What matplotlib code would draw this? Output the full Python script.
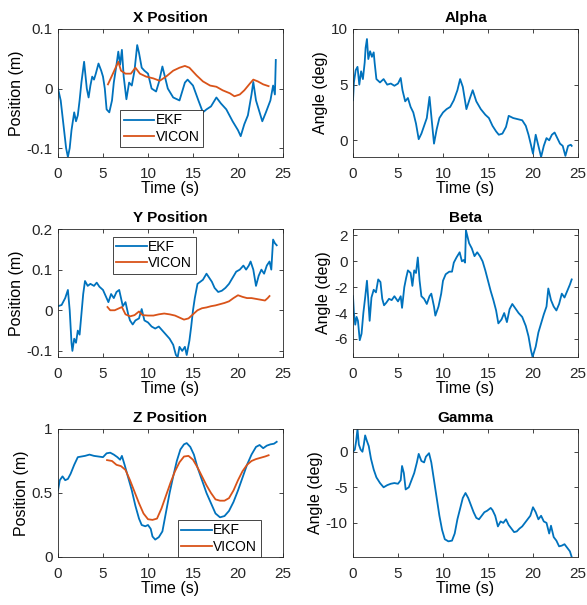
import matplotlib
matplotlib.use('Agg')
import matplotlib.pyplot as plt

plt.rcParams['font.family'] = ['Liberation Sans', 'DejaVu Sans']

blue = '#0072BD'
orange = '#D95319'

## X position
x_ekf_t = [0, 0.3, 0.6, 0.9, 1.1, 1.3, 1.5, 1.8, 2.0, 2.2, 2.4, 2.6, 2.9, 3.0, 3.2, 3.4, 3.6, 3.8,
           4.0, 4.2, 4.5, 4.8, 5.0, 5.2, 5.4, 5.7, 6.0, 6.2, 6.5, 6.7, 6.9, 7.1, 7.3, 7.6, 7.9,
           8.2, 8.5, 8.8, 9.0, 9.3, 9.6, 10.0, 10.4, 10.9, 11.2, 11.6, 12.2, 12.8, 13.5, 14.1,
           14.4, 15.0, 15.6, 16.1, 16.5, 17.0, 17.6, 18.1, 18.7, 19.4, 20.0, 20.3, 20.7, 21.1,
           21.5, 21.7, 22.0, 22.4, 22.7, 23.1, 23.6, 23.9, 24.1, 24.2]
x_ekf = [0.0, -0.02, -0.06, -0.10, -0.115, -0.10, -0.07, -0.04, -0.055, -0.045, -0.02, 0.01,
         0.045, 0.03, 0.0, -0.015, 0.005, 0.02, 0.015, 0.025, 0.042, 0.03, 0.02, 0.0, -0.035,
         -0.04, -0.02, 0.01, 0.04, 0.062, 0.04, 0.065, 0.02, -0.018, 0.01, 0.005, 0.03, 0.073,
         0.06, 0.035, 0.03, 0.025, 0.0, -0.005, 0.01, 0.037, 0.0, -0.015, -0.02, 0.01, 0.015,
         0.005, -0.02, -0.04, -0.035, -0.03, -0.015, -0.025, -0.035, -0.055, -0.07, -0.08,
         -0.06, -0.045, -0.01, 0.011, -0.02, -0.04, -0.055, -0.04, -0.02, 0.005, -0.01, 0.048]
x_vic_t = [5.55, 6.1, 6.7, 7.0, 7.5, 8.1, 8.6, 9.1, 9.8, 10.6, 11.3, 12.0, 12.8, 13.5, 14.1,
           14.6, 15.4, 16.1, 16.9, 17.6, 18.3, 19.1, 19.6, 20.2, 20.7, 21.3, 21.7, 22.2, 22.8, 23.4]
x_vic = [0.007, 0.025, 0.045, 0.03, 0.025, 0.025, 0.035, 0.025, 0.02, 0.017, 0.013, 0.02, 0.03,
         0.035, 0.038, 0.035, 0.022, 0.012, 0.005, 0.003, -0.003, -0.008, -0.013, -0.01,
         -0.003, 0.008, 0.015, 0.012, 0.007, 0.004]

## Y position
y_ekf_t = [0, 0.4, 0.8, 1.1, 1.3, 1.5, 1.6, 1.8, 2.0, 2.2, 2.4, 2.6, 2.8, 3.0, 3.3, 3.6, 4.0,
           4.3, 4.6, 5.0, 5.3, 5.6, 5.9, 6.2, 6.5, 6.8, 7.0, 7.2, 7.5, 7.8, 8.0, 8.3, 8.6, 9.0,
           9.3, 9.6, 10.0, 10.4, 10.8, 11.2, 11.6, 12.0, 12.4, 12.8, 13.1, 13.3, 13.5, 13.8,
           14.1, 14.3, 14.6, 14.8, 15.0, 15.2, 15.5, 15.8, 16.1, 16.5, 16.8, 17.1, 17.4, 17.8,
           18.2, 18.6, 19.0, 19.4, 19.8, 20.2, 20.6, 20.9, 21.2, 21.4, 21.7, 22.0, 22.3, 22.6,
           22.9, 23.2, 23.5, 23.7, 23.9, 24.1, 24.3]
y_ekf = [0.01, 0.013, 0.03, 0.05, 0.0, -0.08, -0.1, -0.07, -0.08, -0.05, -0.06, -0.01, 0.04,
         0.072, 0.06, 0.065, 0.06, 0.068, 0.058, 0.05, 0.035, 0.02, 0.04, 0.03, 0.045, 0.05,
         0.03, 0.01, 0.02, -0.01, -0.025, -0.035, -0.025, -0.02, 0.003, -0.025, -0.03, -0.04,
         -0.045, -0.04, -0.05, -0.06, -0.07, -0.085, -0.11, -0.115, -0.09, -0.1, -0.09, -0.11,
         -0.075, -0.04, 0.0, 0.03, 0.065, 0.07, 0.075, 0.09, 0.08, 0.07, 0.055, 0.045, 0.048,
         0.055, 0.065, 0.08, 0.095, 0.1, 0.11, 0.1, 0.11, 0.12, 0.1, 0.06, 0.085, 0.1, 0.09,
         0.11, 0.12, 0.1, 0.174, 0.165, 0.16]
y_vic_t = [5.5, 5.8, 6.3, 6.8, 7.1, 7.5, 8.0, 8.5, 9.0, 9.4, 10.0, 10.6, 11.2, 11.8, 12.4, 13.0,
           13.5, 14.0, 14.5, 15.0, 15.5, 16.0, 16.5, 17.0, 17.5, 18.0, 18.5, 19.0, 19.5, 20.0,
           20.5, 21.0, 21.5, 22.0, 22.5, 23.0, 23.3, 23.5]
y_vic = [0.008, 0.0, 0.0, 0.005, 0.008, -0.01, -0.015, -0.012, -0.003, -0.012, -0.013, -0.013,
         -0.01, -0.008, -0.01, -0.013, -0.018, -0.023, -0.02, -0.01, 0.0, 0.005, 0.007, 0.01,
         0.012, 0.015, 0.018, 0.022, 0.03, 0.037, 0.033, 0.03, 0.03, 0.028, 0.026, 0.024, 0.03,
         0.035]

## Z position
z_ekf_t = [0, 0.2, 0.5, 0.8, 1.1, 1.4, 1.8, 2.2, 2.6, 3.0, 3.5, 4.0, 4.5, 5.0, 5.4, 5.8, 6.2,
           6.6, 6.9, 7.1, 7.4, 7.8, 8.2, 8.6, 9.0, 9.3, 9.7, 10.0, 10.3, 10.5, 10.8, 11.2, 11.6,
           12.0, 12.4, 12.8, 13.2, 13.6, 14.0, 14.3, 14.7, 15.1, 15.5, 16.0, 16.5, 17.0, 17.5,
           18.0, 18.5, 19.0, 19.5, 20.0, 20.5, 21.0, 21.5, 22.0, 22.4, 22.8, 23.2, 23.6, 24.0, 24.3]
z_ekf = [0.52, 0.6, 0.63, 0.6, 0.61, 0.65, 0.72, 0.78, 0.785, 0.79, 0.8, 0.79, 0.785, 0.78,
         0.81, 0.815, 0.8, 0.78, 0.76, 0.79, 0.72, 0.62, 0.52, 0.4, 0.3, 0.25, 0.24, 0.25, 0.22,
         0.16, 0.136, 0.155, 0.2, 0.35, 0.5, 0.63, 0.75, 0.84, 0.88, 0.89, 0.86, 0.8, 0.7, 0.6,
         0.5, 0.42, 0.34, 0.31, 0.32, 0.36, 0.43, 0.52, 0.62, 0.72, 0.8, 0.86, 0.875, 0.85,
         0.87, 0.88, 0.885, 0.9]
z_vic_t = [5.45, 6.0, 6.5, 7.0, 7.5, 8.0, 8.5, 9.0, 9.5, 10.0, 10.5, 11.0, 11.5, 12.0, 12.5,
           13.0, 13.5, 14.0, 14.5, 15.0, 15.5, 16.0, 16.5, 17.0, 17.5, 18.0, 18.5, 19.0, 19.5,
           20.0, 20.5, 21.0, 21.5, 22.0, 22.5, 23.0, 23.4]
z_vic = [0.757, 0.75, 0.72, 0.71, 0.68, 0.6, 0.51, 0.42, 0.34, 0.295, 0.29, 0.3, 0.38, 0.48,
         0.58, 0.67, 0.74, 0.785, 0.79, 0.76, 0.7, 0.63, 0.56, 0.5, 0.45, 0.44, 0.44, 0.46,
         0.52, 0.6, 0.67, 0.72, 0.75, 0.765, 0.775, 0.785, 0.795]

## Alpha
a_t = [0, 0.1, 0.3, 0.5, 0.7, 0.9, 1.1, 1.3, 1.4, 1.55, 1.7, 1.9, 2.1, 2.3, 2.4, 2.6, 3.0, 3.4,
       3.8, 4.2, 4.6, 5.0, 5.3, 5.5, 5.8, 6.1, 6.4, 6.7, 7.0, 7.3, 7.6, 7.9, 8.2, 8.5, 8.7, 9.0,
       9.3, 9.6, 10.0, 10.4, 10.8, 11.2, 11.6, 11.9, 12.2, 12.6, 13.0, 13.3, 13.7, 14.2, 14.7,
       15.1, 15.5, 15.9, 16.2, 16.6, 17.0, 17.3, 17.8, 18.3, 18.8, 19.2, 19.5, 19.8, 20.0, 20.3,
       20.6, 20.9, 21.2, 21.5, 21.8, 22.1, 22.4, 22.7, 23.0, 23.3, 23.6, 23.9, 24.2, 24.3]
alpha = [3.6, 5.2, 6.3, 6.6, 5.0, 6.2, 5.5, 7.0, 8.3, 9.1, 7.3, 8.0, 7.5, 7.9, 7.0, 5.5, 5.2,
         5.5, 5.0, 5.1, 4.9, 5.1, 5.6, 4.5, 3.5, 3.8, 3.0, 2.5, 1.5, 0.1, 0.6, 1.3, 2.0, 3.9,
         2.2, -0.3, 1.0, 2.0, 2.5, 2.8, 3.0, 3.6, 4.5, 5.5, 4.8, 2.8, 3.8, 4.5, 3.5, 2.8, 2.3,
         2.0, 1.3, 0.8, 0.5, 0.6, 1.2, 2.2, 2.0, 1.9, 1.8, 1.3, 0.5, -0.5, -1.2, 0.5, -0.5, -1.5,
         -0.5, 0.2, 0.0, 0.5, 0.7, 0.2, -0.3, -0.5, -1.4, -0.5, -0.4, -0.5]

## Beta
b_t = [0, 0.1, 0.25, 0.4, 0.55, 0.75, 0.95, 1.15, 1.35, 1.55, 1.7, 1.85, 2.05, 2.3, 2.55, 2.8,
       3.05, 3.25, 3.45, 3.7, 4.0, 4.3, 4.6, 5.0, 5.3, 5.45, 5.7, 5.9, 6.1, 6.4, 6.6, 6.8, 7.0,
       7.2, 7.4, 7.6, 7.9, 8.2, 8.5, 8.7, 9.0, 9.15, 9.5, 9.8, 10.0, 10.3, 10.7, 11.0, 11.2,
       11.5, 11.85, 12.1, 12.3, 12.45, 12.55, 12.9, 13.2, 13.5, 13.8, 14.1, 14.4, 14.7, 15.0,
       15.3, 15.6, 15.9, 16.15, 16.5, 16.8, 17.1, 17.4, 17.7, 18.0, 18.4, 18.8, 19.2, 19.5,
       19.75, 19.95, 20.3, 20.6, 20.9, 21.2, 21.5, 21.7, 22.0, 22.3, 22.6, 22.9, 23.2, 23.5,
       23.8, 24.1, 24.3]
beta = [-2.7, -4.0, -4.9, -4.3, -4.6, -6.1, -5.6, -4.0, -2.8, -1.5, -3.0, -4.6, -2.8, -2.2,
        -2.4, -1.4, -1.6, -2.9, -3.4, -3.2, -2.9, -3.0, -2.7, -3.1, -2.7, -3.6, -2.0, -1.3,
        -0.7, -0.9, -1.9, -0.7, -0.9, 0.3, -1.5, -2.7, -2.9, -3.3, -2.7, -2.5, -3.5, -4.2,
        -3.5, -2.5, -1.5, -1.0, -0.8, -0.8, -0.1, 0.3, 0.7, 0.0, 0.1, -0.1, 2.4, 1.4, 1.0, 0.4,
        0.7, 0.4, 0.0, -0.7, -1.5, -2.3, -3.0, -3.8, -4.8, -4.5, -4.0, -4.7, -3.7, -3.3, -3.6,
        -4.0, -4.3, -5.0, -5.8, -6.8, -7.4, -6.6, -5.5, -4.8, -4.1, -3.5, -2.1, -3.0, -3.5,
        -3.8, -3.3, -2.5, -2.8, -2.3, -1.8, -1.4]

## Gamma
g_t = [0, 0.2, 0.35, 0.5, 0.65, 0.85, 1.05, 1.2, 1.35, 1.55, 1.75, 2.0, 2.3, 2.6, 3.0, 3.4,
       3.8, 4.2, 4.6, 5.0, 5.3, 5.45, 5.65, 5.85, 6.2, 6.5, 6.8, 7.1, 7.3, 7.6, 7.9, 8.1, 8.45,
       8.7, 9.0, 9.3, 9.6, 9.9, 10.2, 10.6, 11.0, 11.3, 11.6, 11.9, 12.2, 12.5, 12.8, 13.1,
       13.4, 13.7, 14.0, 14.3, 14.6, 14.9, 15.3, 15.5, 15.8, 16.1, 16.4, 16.7, 17.0, 17.3,
       17.6, 17.9, 18.2, 18.5, 18.8, 19.1, 19.4, 19.7, 20.0, 20.3, 20.6, 20.9, 21.2, 21.5,
       21.8, 22.0, 22.3, 22.6, 22.9, 23.2, 23.5, 23.8, 24.1, 24.3]
gamma = [0.0, 0.3, 1.5, 3.2, 1.0, 0.3, 0.0, 1.0, 2.3, 1.5, 0.8, -1.0, -2.5, -3.6, -4.4, -5.0,
         -4.7, -4.5, -4.4, -4.5, -4.0, -2.0, -3.0, -5.3, -5.0, -4.0, -3.0, -1.5, -0.3, -1.3,
         -1.5, -0.7, -0.2, -1.5, -4.0, -6.5, -9.0, -11.0, -12.3, -12.6, -12.5, -11.5, -9.5,
         -8.0, -6.5, -5.8, -6.5, -7.5, -8.5, -9.3, -9.5, -9.0, -8.5, -8.3, -7.9, -8.2, -9.0,
         -10.5, -9.8, -10.0, -9.5, -10.3, -10.8, -11.3, -11.2, -10.8, -10.5, -10.0, -9.5, -9.0,
         -7.8, -8.5, -9.5, -9.0, -9.8, -10.0, -11.5, -10.4, -12.0, -12.5, -13.3, -13.2, -13.0,
         -13.5, -14.0, -14.8]

fig = plt.figure(figsize=(5.87, 6.05), dpi=100)

left_x = 58 / 587
right_x = 353 / 587
w = 225 / 587
h = 128 / 605
row_b = [1 - 157 / 605, 1 - 357 / 605, 1 - 557 / 605]


def style(ax, title, ylabel, ylim, yticks, yticklabels):
    ax.set_xlim(0, 25)
    ax.set_ylim(*ylim)
    ax.set_xticks([0, 5, 10, 15, 20, 25])
    ax.set_yticks(yticks)
    ax.set_yticklabels(yticklabels)
    ax.set_title(title, fontsize=11, fontweight='bold', pad=5)
    ax.set_xlabel('Time (s)', fontsize=11.5, labelpad=0)
    ax.set_ylabel(ylabel, fontsize=11.5, labelpad=2)
    ax.tick_params(direction='in', top=True, right=True, labelsize=11, length=3,
                   width=0.6, colors='#262626')
    ax.tick_params(axis='x', pad=7)
    ax.tick_params(axis='y', pad=4)
    for s in ax.spines.values():
        s.set_color('#262626')
        s.set_linewidth(0.6)


def legend(ax, loc, anchor):
    lg = ax.legend(loc=loc, bbox_to_anchor=anchor, fontsize=10, fancybox=False,
                   framealpha=1, edgecolor='#262626', handlelength=2.2,
                   borderpad=0.25, labelspacing=0.15, handletextpad=0.1,
                   borderaxespad=0)
    lg.get_frame().set_linewidth(0.6)


lw = 1.3

ax = fig.add_axes([left_x, row_b[0], w, h])
ax.plot(x_ekf_t, x_ekf, color=blue, lw=lw, label='EKF')
ax.plot(x_vic_t, x_vic, color=orange, lw=lw, label='VICON')
style(ax, 'X Position', 'Position (m)', (-0.115, 0.1), [-0.1, 0, 0.1], ['-0.1', '0', '0.1'])
legend(ax, 'lower left', (0.276, 0.078))

ax = fig.add_axes([right_x, row_b[0], w, h])
ax.plot(a_t, alpha, color=blue, lw=lw)
style(ax, 'Alpha', 'Angle (deg)', (-1.5, 10), [0, 5, 10], ['0', '5', '10'])

ax = fig.add_axes([left_x, row_b[1], w, h])
ax.plot(y_ekf_t, y_ekf, color=blue, lw=lw, label='EKF')
ax.plot(y_vic_t, y_vic, color=orange, lw=lw, label='VICON')
style(ax, 'Y Position', 'Position (m)', (-0.115, 0.2), [-0.1, 0, 0.1, 0.2],
      ['-0.1', '0', '0.1', '0.2'])
legend(ax, 'upper left', (0.244, 0.94))

ax = fig.add_axes([right_x, row_b[1], w, h])
ax.plot(b_t, beta, color=blue, lw=lw)
style(ax, 'Beta', 'Angle (deg)', (-7.4, 2.5), [-6, -4, -2, 0, 2], ['-6', '-4', '-2', '0', '2'])

ax = fig.add_axes([left_x, row_b[2], w, h])
ax.plot(z_ekf_t, z_ekf, color=blue, lw=lw, label='EKF')
ax.plot(z_vic_t, z_vic, color=orange, lw=lw, label='VICON')
style(ax, 'Z Position', 'Position (m)', (0, 1), [0, 0.5, 1], ['0', '0.5', '1'])
legend(ax, 'lower left', (0.533, 0.0))

ax = fig.add_axes([right_x, row_b[2], w, h])
ax.plot(g_t, gamma, color=blue, lw=lw)
style(ax, 'Gamma', 'Angle (deg)', (-14.8, 3.2), [-10, -5, 0], ['-10', '-5', '0'])

fig.savefig('out.png', dpi=100)
